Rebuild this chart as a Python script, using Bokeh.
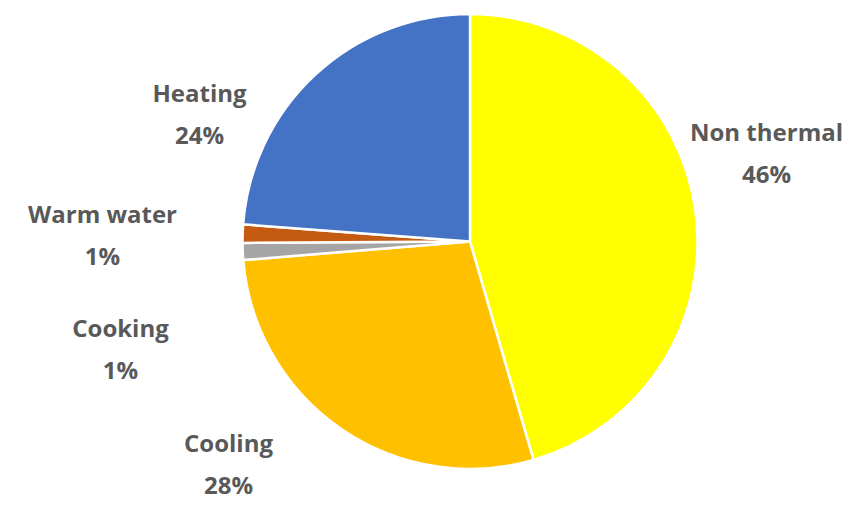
import math
from bokeh.plotting import figure
from bokeh.models import ColumnDataSource, Range1d
from bokeh.embed import file_html
from bokeh.resources import INLINE
from bokeh.core.properties import value

categories = ["Non thermal", "Cooling", "Cooking", "Warm water", "Heating"]
shares = [45.5, 28.2, 1.2, 1.3, 23.8]
colors = ["#FFFF00", "#FFC000", "#A5A5A5", "#C55A11", "#4472C4"]

W, H = 848, 502
p = figure(width=W, height=H, output_backend="svg", toolbar_location=None,
           x_range=Range1d(0, W), y_range=Range1d(518 - H, 518),
           min_border=0, outline_line_color=None)
p.axis.visible = False
p.grid.visible = False

total = sum(shares)
starts, ends = [], []
acc = 0.0
for s in shares:
    starts.append(math.pi / 2 - acc / total * 2 * math.pi)
    acc += s
    ends.append(math.pi / 2 - acc / total * 2 * math.pi)

cx, cy, r = 469.5, 518 - 241, 227.5
src = ColumnDataSource(dict(start=starts, end=ends, color=colors))
p.wedge(x=cx, y=cy, radius=r, start_angle="start", end_angle="end",
        direction="clock", fill_color="color", line_color="white",
        line_width=2.5, source=src)

# label anchor positions (layout, in screen pixels of the page)
label_xy = [(766, 152), (228, 463), (120, 348), (102, 234), (199, 113)]
lx, ly, txt = [], [], []
for name, s, (x, y) in zip(categories, shares, label_xy):
    lx.append(x)
    ly.append(518 - y)
    txt.append(f"{name}\n{round(s)}%")
p.text(x=lx, y=ly, text=txt, text_align="center", text_baseline="middle",
       text_font=value("Open Sans"), text_font_style="bold", text_font_size="24px",
       text_color="#595959", text_line_height=1.25)

open("out.html", "w").write(file_html(p, INLINE))
